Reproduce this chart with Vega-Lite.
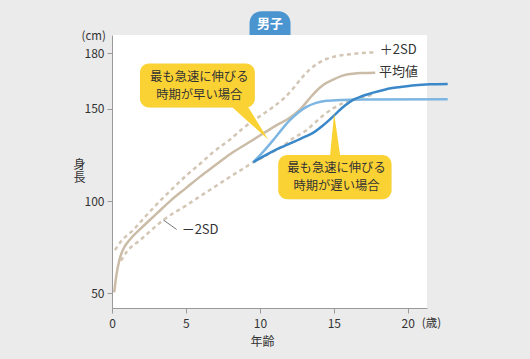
{
  "$schema": "https://vega.github.io/schema/vega-lite/v6.json",
  "width": 315,
  "height": 273,
  "autosize": {"type": "none"},
  "padding": {"left": 112, "top": 35, "right": 103, "bottom": 51},
  "background": "#ebebeb",
  "config": {
    "view": {"fill": "white", "stroke": null},
    "font": "Noto Sans CJK JP",
    "axis": {"grid": false, "domainColor": "#9a9a9a", "tickColor": "#9a9a9a", "tickSize": 5, "labelColor": "#333", "labelFontSize": 12, "titleColor": "#333", "titleFontSize": 12, "titleFontWeight": "normal", "labelFont": "Noto Sans CJK JP", "titleFont": "Noto Sans CJK JP"}
  },
  "datasets": {
    "lines": [
      {"s": "mean", "x": 0.15, "y": 50.5}, {"s": "mean", "x": 0.3, "y": 60}, {"s": "mean", "x": 0.5, "y": 68}, {"s": "mean", "x": 0.8, "y": 74.5}, {"s": "mean", "x": 1.2, "y": 79}, {"s": "mean", "x": 2, "y": 85.5}, {"s": "mean", "x": 3, "y": 93}, {"s": "mean", "x": 4, "y": 100.5}, {"s": "mean", "x": 5, "y": 107}, {"s": "mean", "x": 6, "y": 113.5}, {"s": "mean", "x": 7, "y": 119.5}, {"s": "mean", "x": 8, "y": 125.5}, {"s": "mean", "x": 9, "y": 130.5}, {"s": "mean", "x": 10, "y": 135.5}, {"s": "mean", "x": 11, "y": 140.5}, {"s": "mean", "x": 12, "y": 145}, {"s": "mean", "x": 12.7, "y": 149.5}, {"s": "mean", "x": 13.4, "y": 156}, {"s": "mean", "x": 13.8, "y": 159.5}, {"s": "mean", "x": 14.3, "y": 163}, {"s": "mean", "x": 15, "y": 166}, {"s": "mean", "x": 15.6, "y": 168}, {"s": "mean", "x": 16.3, "y": 169}, {"s": "mean", "x": 17, "y": 169.4}, {"s": "mean", "x": 17.8, "y": 169.6},
      {"s": "p2", "x": 0.2, "y": 73.4}, {"s": "p2", "x": 0.6, "y": 78}, {"s": "p2", "x": 1.44, "y": 84.3}, {"s": "p2", "x": 2.3, "y": 92}, {"s": "p2", "x": 3.24, "y": 100}, {"s": "p2", "x": 4, "y": 106}, {"s": "p2", "x": 5.05, "y": 114}, {"s": "p2", "x": 6, "y": 120.5}, {"s": "p2", "x": 6.84, "y": 126.5}, {"s": "p2", "x": 8, "y": 133.5}, {"s": "p2", "x": 8.87, "y": 139.5}, {"s": "p2", "x": 10, "y": 146}, {"s": "p2", "x": 10.9, "y": 151}, {"s": "p2", "x": 11.6, "y": 155.5}, {"s": "p2", "x": 12.25, "y": 161}, {"s": "p2", "x": 12.8, "y": 166.5}, {"s": "p2", "x": 13.4, "y": 171.5}, {"s": "p2", "x": 14, "y": 175}, {"s": "p2", "x": 14.5, "y": 177}, {"s": "p2", "x": 15.3, "y": 178.7}, {"s": "p2", "x": 16.1, "y": 179.6}, {"s": "p2", "x": 17.7, "y": 180.6},
      {"s": "m2", "x": 0.6, "y": 67.5}, {"s": "m2", "x": 1, "y": 72.5}, {"s": "m2", "x": 1.9, "y": 78.8}, {"s": "m2", "x": 2.7, "y": 84.5}, {"s": "m2", "x": 3.47, "y": 89.7}, {"s": "m2", "x": 5, "y": 97.5}, {"s": "m2", "x": 6, "y": 102.8}, {"s": "m2", "x": 7, "y": 108}, {"s": "m2", "x": 8, "y": 113.2}, {"s": "m2", "x": 9, "y": 118.2}, {"s": "m2", "x": 9.55, "y": 121}, {"s": "m2", "x": 10.5, "y": 125}, {"s": "m2", "x": 11.5, "y": 129.5}, {"s": "m2", "x": 12.25, "y": 134}, {"s": "m2", "x": 13.15, "y": 138.4}, {"s": "m2", "x": 13.8, "y": 143}, {"s": "m2", "x": 14.3, "y": 146.5}, {"s": "m2", "x": 15, "y": 150.5}, {"s": "m2", "x": 15.6, "y": 152.9}, {"s": "m2", "x": 16.3, "y": 155}, {"s": "m2", "x": 17, "y": 156.5}, {"s": "m2", "x": 17.6, "y": 157.5},
      {"s": "early", "x": 9.55, "y": 121}, {"s": "early", "x": 10.2, "y": 126.5}, {"s": "early", "x": 10.9, "y": 133}, {"s": "early", "x": 11.5, "y": 139}, {"s": "early", "x": 12.03, "y": 143.8}, {"s": "early", "x": 12.6, "y": 148}, {"s": "early", "x": 13.15, "y": 151}, {"s": "early", "x": 13.8, "y": 153.2}, {"s": "early", "x": 14.5, "y": 154.3}, {"s": "early", "x": 15.5, "y": 154.8}, {"s": "early", "x": 17, "y": 155}, {"s": "early", "x": 22.7, "y": 155.2},
      {"s": "late", "x": 9.55, "y": 121}, {"s": "late", "x": 10.3, "y": 124.5}, {"s": "late", "x": 11, "y": 127.5}, {"s": "late", "x": 11.7, "y": 130}, {"s": "late", "x": 12.4, "y": 132.5}, {"s": "late", "x": 13.1, "y": 135}, {"s": "late", "x": 13.7, "y": 137.5}, {"s": "late", "x": 14.2, "y": 140.5}, {"s": "late", "x": 14.7, "y": 144}, {"s": "late", "x": 15.2, "y": 147.8}, {"s": "late", "x": 15.8, "y": 152}, {"s": "late", "x": 16.3, "y": 154.8}, {"s": "late", "x": 16.9, "y": 156.8}, {"s": "late", "x": 17.6, "y": 158.6}, {"s": "late", "x": 18.5, "y": 160.5}, {"s": "late", "x": 19.5, "y": 161.8}, {"s": "late", "x": 20.5, "y": 162.8}, {"s": "late", "x": 21.5, "y": 163.3}, {"s": "late", "x": 22.7, "y": 163.5}
    ],
    "boxes": [
      {"x": 1.89, "x2": 9.66, "y": 174.6, "y2": 150.7},
      {"x": 11.24, "x2": 18.9, "y": 124.9, "y2": 101.0}
    ],
    "pointers": [
      {"g": "a", "x": 7.97, "y": 152, "y2": 152},
      {"g": "a", "x": 9.12, "y": 152, "y2": 143.7},
      {"g": "a", "x": 10.56, "y": 133.4, "y2": 133.4},
      {"g": "b", "x": 14.73, "y": 123.5, "y2": 123.5},
      {"g": "b", "x": 15.02, "y": 147.5, "y2": 123.5},
      {"g": "b", "x": 15.45, "y": 123.5, "y2": 123.5}
    ],
    "callouts": [
      {"x": 5.9, "y": 167.0, "t": "最も急速に伸びる"},
      {"x": 5.9, "y": 157.6, "t": "時期が早い場合"},
      {"x": 15.18, "y": 117.9, "t": "最も急速に伸びる"},
      {"x": 15.18, "y": 108.4, "t": "時期が遅い場合"}
    ],
    "labels": [
      {"x": 18.11, "y": 181.8, "t": "＋2SD"},
      {"x": 18.06, "y": 170, "t": "平均値"},
      {"x": 4.71, "y": 84.25, "t": "－2SD"}
    ],
    "leader": [{"x": 3.47, "y": 89.7, "x2": 4.37, "y2": 84.6}],
    "badge": [{"x": 9.3, "x2": 12.07, "y": 190, "y2": 202.9, "t": "男子", "cx": 10.68, "cy": 196}],
    "units": [
      {"x": -1.24, "y": 189, "t": "(cm)"},
      {"x": 21.6, "y": 33.2, "t": "(歳)"}
    ]
  },
  "layer": [
    {
      "data": {"name": "lines"},
      "transform": [{"filter": "datum.s === 'mean'"}],
      "mark": {"type": "line", "color": "#cbbca7", "strokeWidth": 2.5, "interpolate": "monotone", "clip": false},
      "encoding": {
        "x": {"field": "x", "type": "quantitative", "scale": {"domain": [0, 21.3], "nice": false, "zero": false},
          "axis": {"values": [0, 5, 10, 15, 20], "title": "年齢", "labelPadding": 5, "labelDx": 2, "titleX": 150, "titleY": 33, "titleBaseline": "middle", "titleAlign": "center", "labelFlush": false}},
        "y": {"field": "y", "type": "quantitative", "scale": {"domain": [42, 190], "nice": false, "zero": false},
          "axis": {"values": [50, 100, 150, 180], "title": ["身", "長"], "titleAngle": 0, "titleX": -33, "titleY": 129, "titleAlign": "center", "titleBaseline": "middle", "titleLineHeight": 13.5, "labelPadding": 3}}
      }
    },
    {
      "data": {"name": "lines"},
      "transform": [{"filter": "datum.s === 'p2' || datum.s === 'm2'"}],
      "mark": {"type": "line", "color": "#d3c6b4", "strokeWidth": 2.5, "strokeDash": [4, 3.5], "interpolate": "monotone", "clip": false},
      "encoding": {
        "x": {"field": "x", "type": "quantitative", "scale": {"domain": [0, 21.3], "nice": false, "zero": false}},
        "y": {"field": "y", "type": "quantitative", "scale": {"domain": [42, 190], "nice": false, "zero": false}},
        "detail": {"field": "s"}
      }
    },
    {
      "data": {"name": "lines"},
      "transform": [{"filter": "datum.s === 'early'"}],
      "mark": {"type": "line", "color": "#7db6e2", "strokeWidth": 2.5, "interpolate": "monotone", "clip": false},
      "encoding": {
        "x": {"field": "x", "type": "quantitative", "scale": {"domain": [0, 21.3], "nice": false, "zero": false}},
        "y": {"field": "y", "type": "quantitative", "scale": {"domain": [42, 190], "nice": false, "zero": false}}
      }
    },
    {
      "data": {"name": "lines"},
      "transform": [{"filter": "datum.s === 'late'"}],
      "mark": {"type": "line", "color": "#3b88c9", "strokeWidth": 2.5, "interpolate": "monotone", "clip": false},
      "encoding": {
        "x": {"field": "x", "type": "quantitative", "scale": {"domain": [0, 21.3], "nice": false, "zero": false}},
        "y": {"field": "y", "type": "quantitative", "scale": {"domain": [42, 190], "nice": false, "zero": false}}
      }
    },
    {
      "data": {"name": "boxes"},
      "mark": {"type": "rect", "color": "#000", "opacity": 0.1, "cornerRadius": 9, "clip": false, "xOffset": 2, "yOffset": 2},
      "encoding": {
        "x": {"field": "x", "type": "quantitative", "scale": {"domain": [0, 21.3], "nice": false, "zero": false}},
        "x2": {"field": "x2"},
        "y": {"field": "y", "type": "quantitative", "scale": {"domain": [42, 190], "nice": false, "zero": false}},
        "y2": {"field": "y2"}
      }
    },
    {
      "data": {"name": "pointers"},
      "mark": {"type": "area", "color": "#fbd233", "opacity": 1, "clip": false, "interpolate": "linear"},
      "encoding": {
        "x": {"field": "x", "type": "quantitative", "scale": {"domain": [0, 21.3], "nice": false, "zero": false}},
        "y": {"field": "y", "type": "quantitative", "stack": null, "scale": {"domain": [42, 190], "nice": false, "zero": false}},
        "y2": {"field": "y2"},
        "detail": {"field": "g"}
      }
    },
    {
      "data": {"name": "boxes"},
      "mark": {"type": "rect", "color": "#fbd233", "cornerRadius": 9, "clip": false},
      "encoding": {
        "x": {"field": "x", "type": "quantitative", "scale": {"domain": [0, 21.3], "nice": false, "zero": false}},
        "x2": {"field": "x2"},
        "y": {"field": "y", "type": "quantitative", "scale": {"domain": [42, 190], "nice": false, "zero": false}},
        "y2": {"field": "y2"}
      }
    },
    {
      "data": {"name": "callouts"},
      "mark": {"type": "text", "fontSize": 12.3, "color": "#333", "align": "center", "baseline": "middle", "clip": false},
      "encoding": {
        "x": {"field": "x", "type": "quantitative", "scale": {"domain": [0, 21.3], "nice": false, "zero": false}},
        "y": {"field": "y", "type": "quantitative", "scale": {"domain": [42, 190], "nice": false, "zero": false}},
        "text": {"field": "t"}
      }
    },
    {
      "data": {"name": "labels"},
      "mark": {"type": "text", "fontSize": 13, "color": "#333", "align": "left", "baseline": "middle", "clip": false},
      "encoding": {
        "x": {"field": "x", "type": "quantitative", "scale": {"domain": [0, 21.3], "nice": false, "zero": false}},
        "y": {"field": "y", "type": "quantitative", "scale": {"domain": [42, 190], "nice": false, "zero": false}},
        "text": {"field": "t"}
      }
    },
    {
      "data": {"name": "leader"},
      "mark": {"type": "rule", "color": "#777", "strokeWidth": 1, "clip": false},
      "encoding": {
        "x": {"field": "x", "type": "quantitative", "scale": {"domain": [0, 21.3], "nice": false, "zero": false}},
        "x2": {"field": "x2"},
        "y": {"field": "y", "type": "quantitative", "scale": {"domain": [42, 190], "nice": false, "zero": false}},
        "y2": {"field": "y2"}
      }
    },
    {
      "data": {"name": "badge"},
      "mark": {"type": "rect", "color": "#4a94d0", "cornerRadiusTopLeft": 20, "cornerRadiusTopRight": 20, "clip": false},
      "encoding": {
        "x": {"field": "x", "type": "quantitative", "scale": {"domain": [0, 21.3], "nice": false, "zero": false}},
        "x2": {"field": "x2"},
        "y": {"field": "y", "type": "quantitative", "scale": {"domain": [42, 190], "nice": false, "zero": false}},
        "y2": {"field": "y2"}
      }
    },
    {
      "data": {"name": "badge"},
      "mark": {"type": "text", "fontSize": 13, "fontWeight": "bold", "color": "white", "align": "center", "baseline": "middle", "clip": false},
      "encoding": {
        "x": {"field": "cx", "type": "quantitative", "scale": {"domain": [0, 21.3], "nice": false, "zero": false}},
        "y": {"field": "cy", "type": "quantitative", "scale": {"domain": [42, 190], "nice": false, "zero": false}},
        "text": {"field": "t"}
      }
    },
    {
      "data": {"name": "units"},
      "mark": {"type": "text", "fontSize": 11.5, "color": "#333", "align": "center", "baseline": "middle", "clip": false},
      "encoding": {
        "x": {"field": "x", "type": "quantitative", "scale": {"domain": [0, 21.3], "nice": false, "zero": false}},
        "y": {"field": "y", "type": "quantitative", "scale": {"domain": [42, 190], "nice": false, "zero": false}},
        "text": {"field": "t"}
      }
    }
  ]
}
